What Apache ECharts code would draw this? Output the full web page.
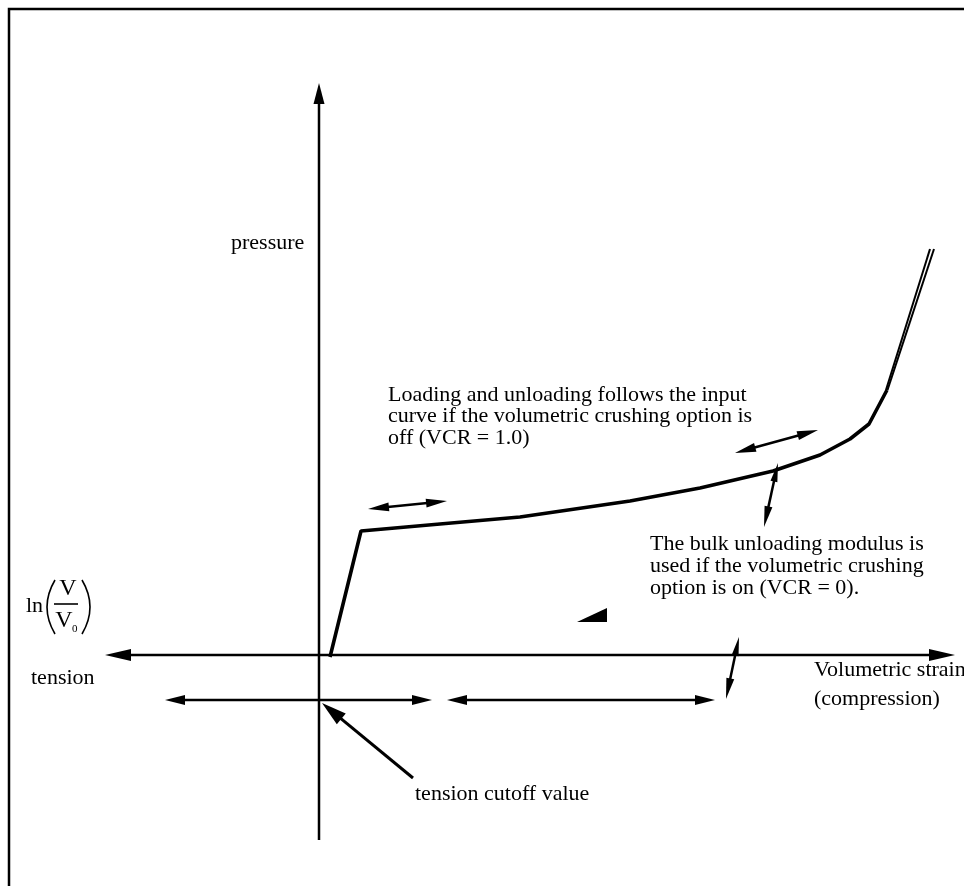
<!DOCTYPE html>
<html>
<head>
<meta charset="utf-8">
<script src="https://cdn.jsdelivr.net/npm/echarts@6/dist/echarts.min.js"></script>
<style>
html,body{margin:0;padding:0;background:#fff;}
#chart{width:964px;height:886px;}
</style>
</head>
<body>
<div id="chart"></div>
<script>
// Diagram units: x = volumetric strain (schematic), y = pressure (schematic); origin at axes crossing
// Loading curve (input curve)
const loadStrain   = [11, 42, 121, 201, 311, 381, 454, 501, 531, 550, 568];
const loadPressure = [-2, 124, 131, 138, 154, 167, 184, 200, 216, 231, 265];
// Upper part of curve: loading branch and unloading branch drawn as two thin lines
const upperStrainA   = [567, 611];
const upperPressureA = [265, 406];
const upperStrainB   = [568.5, 615];
const upperPressureB = [265, 406];

// Arrows: [x1, y1, x2, y2]
const horizontalAxis   = [[-214, 0, 636, 0]];
const verticalAxis     = [[0, -185, 0, 572]];
const spanArrows       = [[-154, -45, 113, -45], [128, -45, 396, -45]];
const cutoffPointer    = [[94, -123, 3, -48]];
const loadingArrows    = [[49, 146, 128, 154], [416, 202, 499, 225]];
const unloadingArrows  = [[459, 192, 445, 128], [420, 18, 407, -44]];
// small filled triangle marker
const triangleMarker   = [[258, 33, 288, 33, 288, 47]];

function arrowSeries(name, data, cfg) {
  return {
    type: 'custom',
    name: name,
    clip: false,
    silent: true,
    encode: { x: [0, 2], y: [1, 3] },
    data: data,
    renderItem: function (params, api) {
      const p1 = api.coord([api.value(0), api.value(1)]);
      const p2 = api.coord([api.value(2), api.value(3)]);
      const dx = p2[0] - p1[0], dy = p2[1] - p1[1];
      const L = Math.hypot(dx, dy);
      const ux = dx / L, uy = dy / L;
      const nx = -uy, ny = ux;
      const children = [];
      let a = p1.slice(), b = p2.slice();
      function head(tip, dirx, diry, len, w) {
        const bx = tip[0] - dirx * len, by = tip[1] - diry * len;
        return {
          type: 'polygon',
          shape: { points: [tip, [bx + nx * w / 2, by + ny * w / 2], [bx - nx * w / 2, by - ny * w / 2]] },
          style: { fill: '#000' }
        };
      }
      if (cfg.start) {
        const h = cfg.start;
        children.push(head(p1, -ux, -uy, h[0], h[1]));
        a = [p1[0] + ux * h[0] * 0.7, p1[1] + uy * h[0] * 0.7];
      }
      if (cfg.end) {
        const h = cfg.end;
        children.push(head(p2, ux, uy, h[0], h[1]));
        b = [p2[0] - ux * h[0] * 0.7, p2[1] - uy * h[0] * 0.7];
      }
      children.unshift({
        type: 'line',
        shape: { x1: a[0], y1: a[1], x2: b[0], y2: b[1] },
        style: { stroke: '#000', lineWidth: cfg.width }
      });
      return { type: 'group', children: children };
    }
  };
}

const zip = (xs, ys) => xs.map((x, i) => [x, ys[i]]);

const chart = echarts.init(document.getElementById('chart'), null, { renderer: 'canvas' });
const serif = '"Liberation Serif", "Times New Roman", serif';

function txt(x, y, s, size, align) {
  return {
    type: 'text', x: x, y: y, silent: true,
    style: { text: s, font: (size || 22) + 'px ' + serif, fill: '#000', align: align || 'left', verticalAlign: 'middle' }
  };
}

chart.setOption({
  animation: false,
  backgroundColor: '#fff',
  grid: { left: 0, right: 0, top: 0, bottom: 0 },
  xAxis: { type: 'value', min: -319, max: 645, show: false },
  yAxis: { type: 'value', min: -231, max: 655, show: false },
  series: [
    {
      type: 'line', name: 'input curve', data: zip(loadStrain, loadPressure),
      showSymbol: false, symbol: 'none', clip: false, silent: true,
      lineStyle: { color: '#000', width: 3.6 }
    },
    {
      type: 'line', name: 'loading', data: zip(upperStrainA, upperPressureA),
      showSymbol: false, symbol: 'none', clip: false, silent: true,
      lineStyle: { color: '#000', width: 2 }
    },
    {
      type: 'line', name: 'unloading', data: zip(upperStrainB, upperPressureB),
      showSymbol: false, symbol: 'none', clip: false, silent: true,
      lineStyle: { color: '#000', width: 2 }
    },
    arrowSeries('horizontal axis', horizontalAxis, { width: 2.5, start: [26, 12], end: [26, 12] }),
    arrowSeries('vertical axis', verticalAxis, { width: 2.5, end: [21, 11] }),
    arrowSeries('spans', spanArrows, { width: 2.5, start: [20, 10], end: [20, 10] }),
    arrowSeries('cutoff', cutoffPointer, { width: 3, end: [25, 14] }),
    arrowSeries('loading arrows', loadingArrows, { width: 2.5, start: [21, 9], end: [21, 9] }),
    arrowSeries('unloading arrows', unloadingArrows, { width: 2.5, start: [19, 7], end: [21, 8] }),
    {
      type: 'custom', name: 'marker', clip: false, silent: true,
      encode: { x: [0, 2, 4], y: [1, 3, 5] },
      data: triangleMarker,
      renderItem: function (params, api) {
        const pts = [0, 2, 4].map(i => api.coord([api.value(i), api.value(i + 1)]));
        return { type: 'polygon', shape: { points: pts }, style: { fill: '#000' } };
      }
    }
  ],
  graphic: [
    { type: 'rect', silent: true, shape: { x: 9, y: 9, width: 2000, height: 2000 },
      style: { fill: 'none', stroke: '#000', lineWidth: 2.5 } },
    txt(231, 243, 'pressure'),
    txt(388, 395, 'Loading and unloading follows the input'),
    txt(388, 416.5, 'curve if the volumetric crushing option is'),
    txt(388, 438, 'off (VCR = 1.0)'),
    txt(650, 544, 'The bulk unloading modulus is'),
    txt(650, 566, 'used if the volumetric crushing'),
    txt(650, 588, 'option is on (VCR = 0).'),
    txt(814, 670, 'Volumetric strain'),
    txt(814, 699, '(compression)'),
    txt(31, 678, 'tension'),
    txt(415, 794, 'tension cutoff value'),
    // ln(V/V0) label
    txt(26, 606, 'ln'),
    { type: 'bezierCurve', silent: true,
      shape: { x1: 55, y1: 580, cpx1: 39, cpy1: 607, x2: 55, y2: 634 },
      style: { fill: 'none', stroke: '#000', lineWidth: 1.6 } },
    { type: 'bezierCurve', silent: true,
      shape: { x1: 82, y1: 580, cpx1: 98, cpy1: 607, x2: 82, y2: 634 },
      style: { fill: 'none', stroke: '#000', lineWidth: 1.6 } },
    txt(68, 589, 'V', 24, 'center'),
    { type: 'line', silent: true, shape: { x1: 54, y1: 604, x2: 78, y2: 604 },
      style: { stroke: '#000', lineWidth: 1.6 } },
    txt(64, 621, 'V', 24, 'center'),
    txt(72, 629, '0', 11, 'left')
  ]
});
</script>
</body>
</html>
